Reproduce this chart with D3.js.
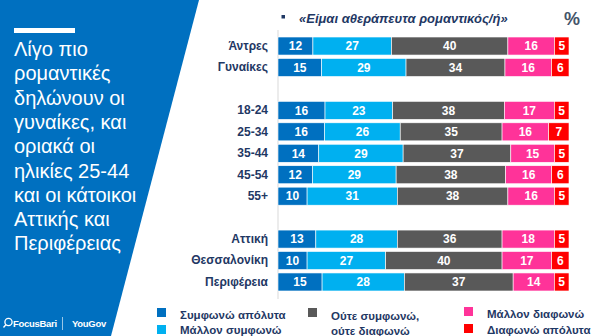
<!DOCTYPE html>
<html>
<head>
<meta charset="utf-8">
<script src="https://cdn.jsdelivr.net/npm/d3@7"></script>
<style>
  body { margin: 0; background: #fff; }
  svg { display: block; font-family: "Liberation Sans", Arial, sans-serif; }
</style>
</head>
<body>
<svg id="chart" width="600" height="336"></svg>
<script>
// data
const categories = ['Άντρες', 'Γυναίκες', '18-24', '25-34', '35-44', '45-54', '55+', 'Αττική', 'Θεσσαλονίκη', 'Περιφέρεια'];
const groupBreaks = ['Γυναίκες', '55+']; // a blank row follows these

const agreeFully = [12, 15, 16, 16, 14, 12, 10, 13, 10, 15];
const agreeRather = [27, 29, 23, 26, 29, 29, 31, 28, 27, 28];
const neither = [40, 34, 38, 35, 37, 38, 38, 36, 40, 37];
const disagreeRather = [16, 16, 17, 16, 15, 16, 16, 18, 17, 14];
const disagreeFully = [5, 6, 5, 7, 5, 6, 5, 5, 6, 5];

const seriesNames = ['Συμφωνώ απόλυτα', 'Μάλλον συμφωνώ', 'Ούτε συμφωνώ, ούτε διαφωνώ', 'Μάλλον διαφωνώ', 'Διαφωνώ απόλυτα'];
const seriesColors = ['#0070c0', '#00b0f0', '#595959', '#ff3399', '#ff0000'];

const titleLines = ['Λίγο πιο', 'ρομαντικές', 'δηλώνουν οι', 'γυναίκες, και', 'οριακά οι', 'ηλικίες 25-44', 'και οι κάτοικοι', 'Αττικής και', 'Περιφέρειας'];
const question = '«Είμαι αθεράπευτα ρομαντικός/ή»';

const svg = d3.select('#chart');
const navy = '#1f3864';

// left blue panel
svg.append('path')
  .attr('d', 'M0,0 L199,0 L111,336 L0,336 Z')
  .attr('fill', '#0070c0');

svg.append('rect')
  .attr('x', 14).attr('y', 28)
  .attr('width', 61).attr('height', 5)
  .attr('fill', '#fff');

svg.append('text')
  .attr('fill', '#fff')
  .style('font-size', '20px')
  .selectAll('tspan')
  .data(titleLines)
  .join('tspan')
  .attr('x', 14)
  .attr('y', (d, i) => 56 + i * 24.3)
  .text((d) => d);

// logos
const logo = svg.append('g').attr('fill', '#fff');
logo.append('circle')
  .attr('cx', 8.5).attr('cy', 322)
  .attr('r', 3.6)
  .attr('fill', 'none')
  .attr('stroke', '#fff')
  .attr('stroke-width', 1.3);
logo.append('line')
  .attr('x1', 6).attr('y1', 324.5)
  .attr('x2', 3.5).attr('y2', 327.5)
  .attr('stroke', '#fff')
  .attr('stroke-width', 1.3);
logo.append('text')
  .attr('x', 13).attr('y', 327)
  .style('font-size', '9.5px')
  .style('font-weight', 'bold')
  .style('letter-spacing', '-0.3px')
  .text('FocusBari');
logo.append('line')
  .attr('x1', 62.5).attr('y1', 317)
  .attr('x2', 62.5).attr('y2', 330)
  .attr('stroke', '#fff')
  .attr('stroke-opacity', 0.6);
logo.append('text')
  .attr('x', 72).attr('y', 327)
  .style('font-size', '9.5px')
  .style('font-weight', 'bold')
  .style('letter-spacing', '-0.3px')
  .text('YouGov');

// header
svg.append('rect')
  .attr('x', 281.5).attr('y', 15)
  .attr('width', 3.5).attr('height', 3.5)
  .attr('fill', navy);
svg.append('text')
  .attr('x', 299).attr('y', 23)
  .attr('fill', navy)
  .style('font-size', '13px')
  .style('font-weight', 'bold')
  .style('font-style', 'italic')
  .text(question);
svg.append('text')
  .attr('x', 564).attr('y', 25)
  .attr('fill', '#44546a')
  .style('font-size', '18px')
  .style('font-weight', 'bold')
  .text('%');

// rows, with blank slots between groups
const slots = [];
categories.forEach((c) => {
  slots.push(c);
  if (groupBreaks.includes(c)) { slots.push('gap-' + c); }
});

const rows = categories.map((c, i) => ({
  category: c,
  s0: agreeFully[i],
  s1: agreeRather[i],
  s2: neither[i],
  s3: disagreeRather[i],
  s4: disagreeFully[i]
}));

const keys = ['s0', 's1', 's2', 's3', 's4'];
const stacked = d3.stack()
  .keys(keys)
  .offset(d3.stackOffsetExpand)(rows);

const x = d3.scaleLinear()
  .domain([0, 1])
  .range([278, 569]);

const y = d3.scaleBand()
  .domain(slots)
  .range([35.3, 292.7])
  .paddingInner(0.16)
  .paddingOuter(0.08);

// axis
const yAxis = d3.axisLeft(y)
  .tickSize(0)
  .tickPadding(10)
  .tickFormat((d) => d.startsWith('gap-') ? '' : d);

const axisG = svg.append('g')
  .attr('transform', `translate(${x(0)},0)`)
  .call(yAxis);

axisG.select('.domain')
  .attr('d', 'M0,30V299')
  .attr('stroke', '#d9d9d9');

axisG.selectAll('.tick text')
  .attr('fill', navy)
  .style('font-family', '"Liberation Sans", Arial, sans-serif')
  .style('font-size', '12px')
  .style('font-weight', 'bold');

// bars
const layers = svg.append('g')
  .selectAll('g.layer')
  .data(stacked)
  .join('g')
  .attr('class', 'layer')
  .attr('fill', (d, i) => seriesColors[i]);

layers.selectAll('rect')
  .data((d) => d)
  .join('rect')
  .attr('x', (d) => x(d[0]))
  .attr('y', (d) => y(d.data.category))
  .attr('width', (d) => x(d[1]) - x(d[0]))
  .attr('height', y.bandwidth())
  .attr('stroke', '#fff')
  .attr('stroke-width', 0.6);

layers.selectAll('text')
  .data((d) => d.map((v) => ({ v, key: d.key })))
  .join('text')
  .attr('x', (d) => (x(d.v[0]) + x(d.v[1])) / 2)
  .attr('y', (d) => y(d.v.data.category) + y.bandwidth() / 2)
  .attr('dy', '0.36em')
  .attr('text-anchor', 'middle')
  .attr('fill', '#fff')
  .style('font-size', '12px')
  .style('font-weight', 'bold')
  .text((d) => d.v.data[d.key]);

// legend
const legendItems = [
  { x: 157, y: 308, lines: [seriesNames[0]], base: 318.5 },
  { x: 157, y: 325, lines: [seriesNames[1]], base: 334 },
  { x: 308, y: 308, lines: ['Ούτε συμφωνώ,', 'ούτε διαφωνώ'], base: 320 },
  { x: 464, y: 307, lines: [seriesNames[3]], base: 317.5 },
  { x: 464, y: 324, lines: [seriesNames[4]], base: 333.5 }
];

const legend = svg.append('g')
  .selectAll('g')
  .data(legendItems)
  .join('g');

legend.append('rect')
  .attr('x', (d) => d.x)
  .attr('y', (d) => d.y)
  .attr('width', 9)
  .attr('height', 9)
  .attr('fill', (d, i) => seriesColors[i]);

legend.append('text')
  .attr('fill', navy)
  .style('font-size', '11.5px')
  .style('font-weight', 'bold')
  .selectAll('tspan')
  .data((d) => d.lines.map((l, j) => ({ l, j, d })))
  .join('tspan')
  .attr('x', (t) => t.d.x + 23)
  .attr('y', (t) => t.d.base + t.j * 14.5)
  .text((t) => t.l);
</script>
</body>
</html>
